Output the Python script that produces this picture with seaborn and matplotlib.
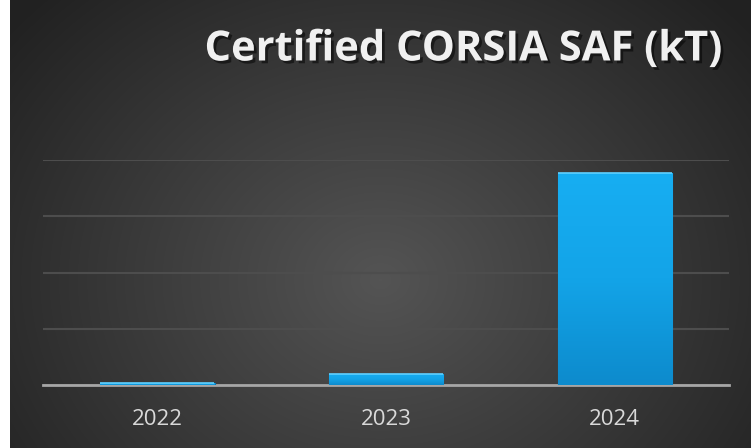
import numpy as np
import matplotlib
matplotlib.use('Agg')
import matplotlib.pyplot as plt
import matplotlib.patheffects as pe
import seaborn as sns

# data

years = ['2022', '2023', '2024']
saf_kt = [3, 20, 377]
grid_ticks = [0, 100, 200, 300, 400]
title = 'Certified CORSIA SAF (kT)'

sns.set_style('white')
plt.rcParams['font.family'] = ['Open Sans', 'DejaVu Sans']

fig = plt.figure(figsize=(7.51, 4.48), dpi=100, facecolor='white')

# dark radial gradient background

bg = fig.add_axes([10 / 751, 0, 741 / 751, 1])
yy, xx = np.mgrid[0:448, 0:741]
r = np.sqrt(((xx - 370) / 480) ** 2 + ((yy - 280) / 400) ** 2)
shade = np.clip(0.33 - 0.2 * r, 0.13, 0.33)
bg.imshow(np.dstack([shade] * 3), aspect='auto', extent=(0, 1, 0, 1), origin='upper')
bg.set_axis_off()

# bar chart

ax = fig.add_axes([43 / 751, 1 - 385 / 448, 686 / 751, 225 / 448])
ax.set_facecolor('none')
sns.barplot(x=years, y=saf_kt, ax=ax, color='#109fe0', width=0.5,
            edgecolor='#0a78b8', linewidth=0.8, zorder=3)

# vertical gradient inside each bar

grad = np.linspace(0, 1, 100)[:, None]
cmap = matplotlib.colors.LinearSegmentedColormap.from_list('bar', ['#0d8bcd', '#13a4e8', '#17aef2'])
for p in ax.patches:
    x0, y0 = p.get_x(), p.get_y()
    w, h = p.get_width(), p.get_height()
    im = ax.imshow(grad, cmap=cmap, aspect='auto', origin='lower',
                   extent=(x0, x0 + w, y0, y0 + h), zorder=3.5)
    im.set_clip_path(p)
    ax.plot([x0, x0 + w], [y0 + h, y0 + h], color='#5fd0ff', lw=1.2, zorder=4,
            solid_capstyle='butt')

ax.set_xlim(-0.5, 2.5)
ax.set_ylim(grid_ticks[0], grid_ticks[-1])
ax.set_yticks(grid_ticks)
ax.set_yticklabels([])
ax.yaxis.grid(True, color='#4d4d4d', linewidth=1.5, zorder=0)
ax.tick_params(axis='both', length=0)
ax.tick_params(axis='x', colors='#d9d9d9', labelsize=16, pad=17)
for s in ['top', 'left', 'right']:
    ax.spines[s].set_visible(False)
ax.spines['bottom'].set_color('#a6a6a6')
ax.spines['bottom'].set_linewidth(2)
ax.spines['bottom'].set_zorder(2)

fig.text(722 / 751, 1 - 50 / 448, title, ha='right', va='center', color='#f0f0f0',
         fontsize=30, fontweight='bold',
         path_effects=[pe.withSimplePatchShadow(offset=(2, -2), shadow_rgbFace='black', alpha=0.5)])

plt.savefig('out.png', dpi=100, facecolor=fig.get_facecolor())
